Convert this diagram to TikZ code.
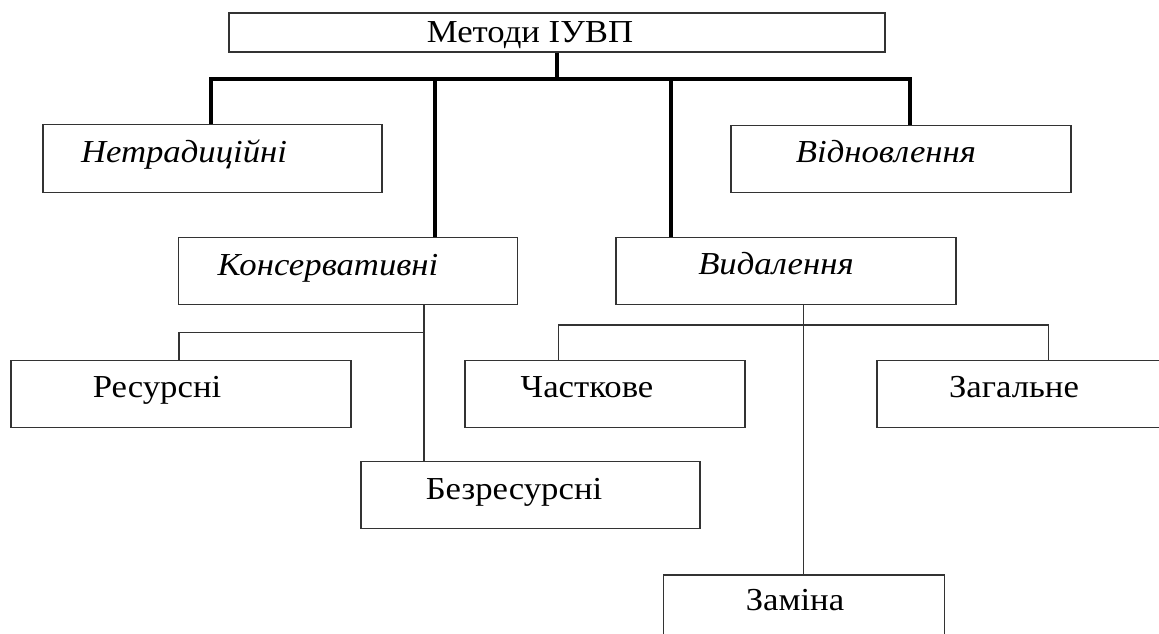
\documentclass[tikz,border=0pt]{standalone}
\usepackage{fontspec}
\setmainfont{Liberation Serif}[FakeStretch=1.085]
\begin{document}
\begin{tikzpicture}[x=1pt,y=-1pt,
  box/.style={draw=black!80,line width=1.2pt,rectangle,inner sep=0pt,fill=none},
  lbl/.style={font=\fontsize{32}{38}\selectfont,inner sep=0pt,anchor=base},
  ilbl/.style={font=\fontsize{32}{38}\selectfont\itshape,inner sep=0pt,anchor=base},
  thk/.style={line width=4pt,black},
  thn/.style={line width=1.3pt,black!80}]
\clip (0,0) rectangle (1159,633);
\fill[white] (0,0) rectangle (1159,633);
% boxes
\node[box,minimum width=656pt,minimum height=39pt] (top) at (557,32.5) {};
\node[box,minimum width=339pt,minimum height=68pt] (netr) at (212.5,158.5) {};
\node[box,minimum width=340pt,minimum height=67pt] (vidn) at (901,159) {};
\node[box,minimum width=339pt,minimum height=67pt] (kons) at (348.3,270.8) {};
\node[box,minimum width=340pt,minimum height=67pt] (vyd) at (786,270.8) {};
\node[box,minimum width=340pt,minimum height=67pt] (res) at (181,393.8) {};
\node[box,minimum width=339pt,minimum height=67pt] (bezres) at (530.5,494.7) {};
\node[box,minimum width=280pt,minimum height=67pt] (chast) at (605,393.8) {};
\node[box,minimum width=340pt,minimum height=67pt] (zag) at (1047,393.8) {};
\node[box,minimum width=281pt,minimum height=67pt] (zam) at (804,608.5) {};
% labels
\node[lbl] (ttop) at (530,42.7) {Методи ІУВП};
\node[ilbl] (tnetr) at (184,162.3) {Нетрадиційні};
\node[ilbl] (tvidn) at (886,162.7) {Відновлення};
\node[ilbl] (tkons) at (328,275) {Консервативні};
\node[ilbl] (tvyd) at (776,274.3) {Видалення};
\node[lbl] (tres) at (157,397.7) {Ресурсні};
\node[lbl] (tbez) at (514,499.3) {Безресурсні};
\node[lbl] (tchast) at (587,397.7) {Часткове};
\node[lbl] (tzag) at (1014,397.7) {Загальне};
\node[lbl] (tzam) at (795,610) {Заміна};
% thick bus
\coordinate (bL) at (211,79.3);
\coordinate (bR) at (910,79.3);
\coordinate (bK) at (434.7,79.3);
\coordinate (bV) at (670.6,79.3);
\draw[thk] (bL |- netr.north) -- (bL) -- (bR) -- (bR |- vidn.north);
\draw[thk] (top.south) -- (top.south |- bL);
\draw[thk] (bK) -- (bK |- kons.north);
\draw[thk] (bV) -- (bV |- vyd.north);
% thin connectors, left
\coordinate (kS) at (424,304.3);
\coordinate (kB) at (424,332.7);
\coordinate (rB) at (179,332.7);
\draw[thn] (kS |- kons.south) -- (kS |- bezres.north);
\draw[thn] (kB) -- (rB) -- (rB |- res.north);
% thin connectors, right
\coordinate (vS) at (803.5,304.3);
\coordinate (cB) at (558.6,325);
\coordinate (zB) at (1048.7,325);
\draw[thn] (vS |- vyd.south) -- (vS |- zam.north);
\draw[thn] (cB |- chast.north) -- (cB) -- (zB) -- (zB |- zag.north);
\end{tikzpicture}
\end{document}
